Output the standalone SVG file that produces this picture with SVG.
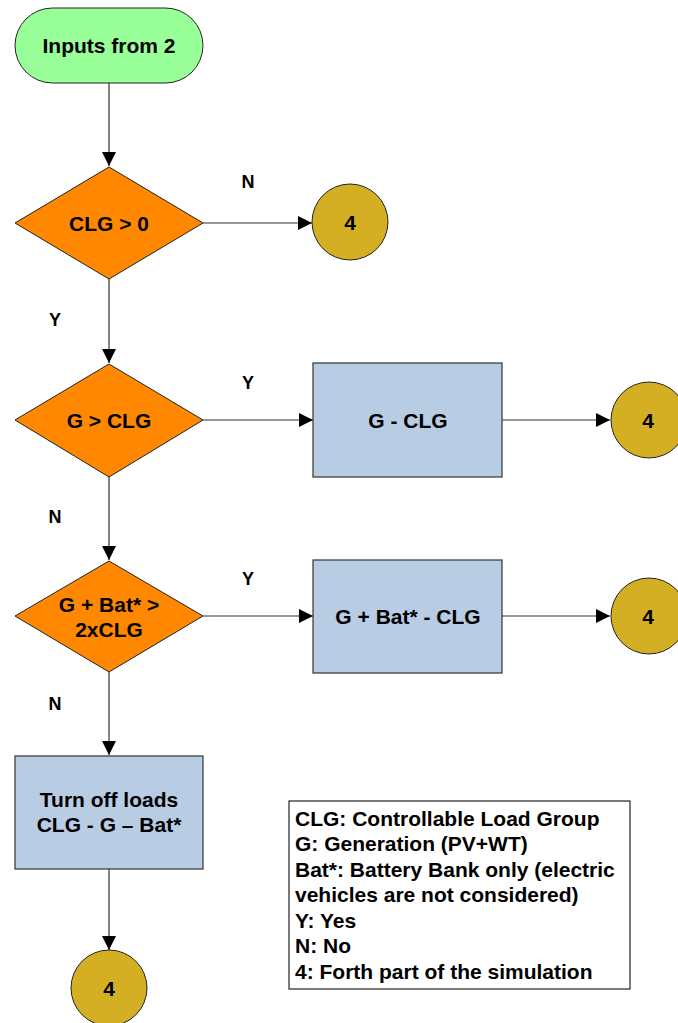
<svg xmlns="http://www.w3.org/2000/svg" width="678" height="1023" viewBox="0 0 678 1023">
<style>
text{font-family:"Liberation Sans",Arial,sans-serif;font-weight:bold;fill:#000}
.t{font-size:21px;text-anchor:middle}
.l{font-size:18px;text-anchor:middle}
.g{font-size:21px}
.dia{fill:#FF8800;stroke:#222;stroke-width:1}
.box{fill:#B8CCE4;stroke:#333;stroke-width:1.2}
.circ{fill:#D4AF23;stroke:#222;stroke-width:1}
.con{stroke:#333;stroke-width:1.2;fill:none;marker-end:url(#ah)}
</style>
<defs>
<marker id="ah" viewBox="0 0 14 14" refX="14" refY="7" markerWidth="14" markerHeight="14" markerUnits="userSpaceOnUse" orient="auto">
<path d="M0,0 L14,7 L0,14 Z" fill="#000"/>
</marker>
</defs>
<rect width="678" height="1023" fill="#fff"/>
<g id="connectors">
<line class="con" x1="109" y1="83" x2="109" y2="166"/>
<line class="con" x1="203" y1="223" x2="312" y2="223"/>
<line class="con" x1="109" y1="279" x2="109" y2="363"/>
<line class="con" x1="203" y1="420" x2="313" y2="420"/>
<line class="con" x1="502" y1="420" x2="610" y2="420"/>
<line class="con" x1="109" y1="477" x2="109" y2="560"/>
<line class="con" x1="203" y1="616" x2="313" y2="616"/>
<line class="con" x1="502" y1="616" x2="610" y2="616"/>
<line class="con" x1="109" y1="672" x2="109" y2="755"/>
<line class="con" x1="109" y1="869" x2="109" y2="950"/>
<text class="l" x="248" y="188">N</text>
<text class="l" x="55" y="326">Y</text>
<text class="l" x="248" y="389">Y</text>
<text class="l" x="55" y="523">N</text>
<text class="l" x="248" y="585">Y</text>
<text class="l" x="55" y="710">N</text>
</g>
<g id="start">
<rect x="15" y="8" width="188" height="75" rx="37.5" ry="37.5" fill="#99FF99" stroke="#222" stroke-width="1"/>
<text class="t" x="109" y="53">Inputs from 2</text>
</g>
<g id="d1">
<polygon class="dia" points="109,167 203,223 109,279 15,223"/>
<text class="t" x="109" y="230.5">CLG &gt; 0</text>
</g>
<g id="c1">
<circle class="circ" cx="350" cy="222" r="38"/>
<text class="t" x="350" y="229.5">4</text>
</g>
<g id="d2">
<polygon class="dia" points="109,364 203,420 109,477 15,420"/>
<text class="t" x="109" y="427.5">G &gt; CLG</text>
</g>
<g id="b1">
<rect class="box" x="313" y="363" width="189" height="114"/>
<text class="t" x="408" y="427.5">G - CLG</text>
</g>
<g id="c2">
<circle class="circ" cx="649" cy="420" r="38"/>
<text class="t" x="648" y="427.5">4</text>
</g>
<g id="d3">
<polygon class="dia" points="109,561 203,616 109,672 15,616"/>
<text class="t" x="109" y="612">G + Bat* &gt;</text>
<text class="t" x="109" y="637">2xCLG</text>
</g>
<g id="b2">
<rect class="box" x="313" y="560" width="189" height="113"/>
<text class="t" x="408" y="623.5">G + Bat* - CLG</text>
</g>
<g id="c3">
<circle class="circ" cx="649" cy="616" r="38"/>
<text class="t" x="648" y="623.5">4</text>
</g>
<g id="b3">
<rect class="box" x="15" y="756" width="188" height="113"/>
<text class="t" x="109" y="806.5">Turn off loads</text>
<text class="t" x="109" y="831.5">CLG - G – Bat*</text>
</g>
<g id="c4">
<circle class="circ" cx="109" cy="988" r="38"/>
<text class="t" x="109" y="995.5">4</text>
</g>
<g id="legend">
<rect x="289" y="801" width="341" height="188" fill="#fff" stroke="#222" stroke-width="1.2"/>
<text class="g" x="295" y="825.5">CLG: Controllable Load Group</text>
<text class="g" x="295" y="851">G: Generation (PV+WT)</text>
<text class="g" x="295" y="876.5">Bat*: Battery Bank only (electric</text>
<text class="g" x="295" y="902">vehicles are not considered)</text>
<text class="g" x="295" y="927.5">Y: Yes</text>
<text class="g" x="295" y="953">N: No</text>
<text class="g" x="295" y="978.5">4: Forth part of the simulation</text>
</g>
</svg>
